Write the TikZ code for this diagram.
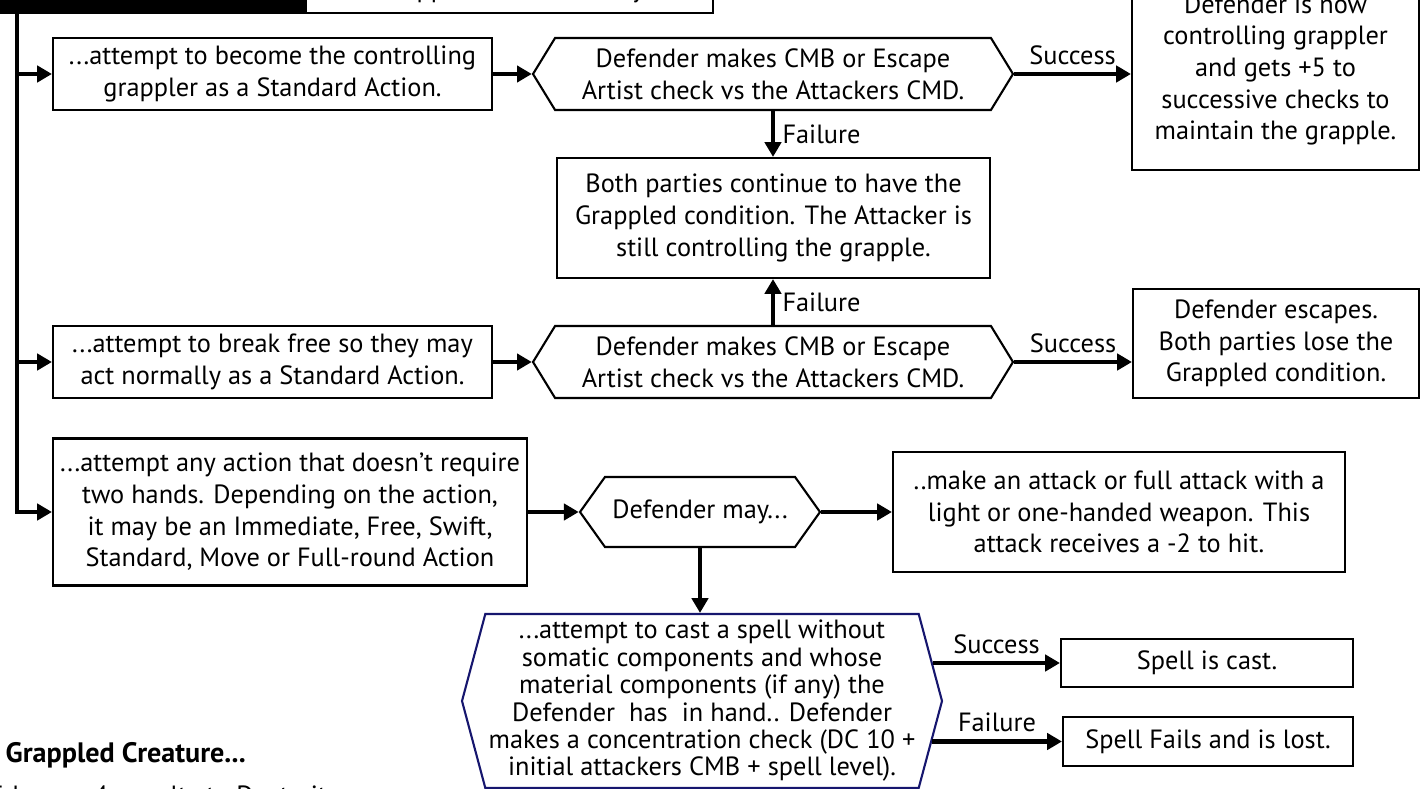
\documentclass[tikz,border=0pt]{standalone}
\usepackage{fontspec}
\setmainfont{PT Sans}
\usetikzlibrary{arrows.meta,shapes.symbols}
\definecolor{navyline}{RGB}{22,22,110}
\tikzstyle{box}=[draw=black,line width=0.6pt,align=center,inner sep=0pt,font=\fontsize{7.5}{9}\selectfont]
\tikzstyle{hexa}=[box,shape=signal,signal to=west and east]
\tikzstyle{arr}=[line width=1.4pt,-{Triangle[length=4.2pt,width=4.6pt]}]
\tikzstyle{lbl}=[font=\fontsize{7.5}{9}\selectfont,inner sep=2pt]

\begin{document}
\begin{tikzpicture}
	\path[use as bounding box,clip] (0,0) rectangle (14.21,-7.89);
	\node (nb) [box,fill=black,minimum width=3.05cm,minimum height=0.44cm,anchor=south] at (1.525,-0.14) {};
	\node (n0) [box,minimum width=4.07cm,minimum height=0.44cm,anchor=south] at (5.095,-0.14) {A Grappled Defender may...};
	\coordinate (t) at (0.17,-0.14);
	\node (n1) [box,minimum width=4.39cm,minimum height=0.72cm] at (2.725,-0.74) {...attempt to become the controlling\\grappler as a Standard Action.};
	\node (n2) [hexa,minimum width=4.8cm,minimum height=0.72cm,signal pointer angle=117] at (7.73,-0.74) {Defender makes CMB or Escape\\Artist check vs the Attackers CMD.};
	\node (n3) [box,minimum width=2.87cm,minimum height=2cm] at (12.755,-0.70) {Defender is now\\controlling grappler\\and gets +5 to\\successive checks to\\maintain the grapple.};
	\node (n4) [box,minimum width=4.33cm,minimum height=1.2cm] at (7.735,-2.18) {Both parties continue to have the\\Grappled condition. The Attacker is\\still controlling the grapple.};
	\node (n5) [box,minimum width=4.39cm,minimum height=0.72cm] at (2.725,-3.62) {...attempt to break free so they may\\act normally as a Standard Action.};
	\node (n6) [hexa,minimum width=4.8cm,minimum height=0.72cm,signal pointer angle=117] at (7.73,-3.62) {Defender makes CMB or Escape\\Artist check vs the Attackers CMD.};
	\node (n7) [box,minimum width=2.86cm,minimum height=1.09cm] at (12.76,-3.435) {Defender escapes.\\Both parties lose the\\Grappled condition.};
	\node (n8) [box,minimum width=4.74cm,minimum height=1.47cm] at (2.90,-5.12) {...attempt any action that doesn’t require\\two hands. Depending on the action,\\it may be an Immediate, Free, Swift,\\Standard, Move or Full-round Action};
	\node (n9) [hexa,minimum width=2.4cm,minimum height=0.7cm,signal pointer angle=109] at (7.0,-5.12) {Defender may...};
	\node (n10) [box,minimum width=4.52cm,minimum height=1.2cm] at (11.19,-5.12) {..make an attack or full attack with a\\light or one-handed weapon. This\\attack receives a -2 to hit.};
	\node (n11) [hexa,draw=navyline,minimum width=4.8cm,minimum height=1.74cm,signal pointer angle=150,font=\fontsize{7.5}{7.8}\selectfont] at (7.02,-7.01) {...attempt to cast a spell without\\somatic components and whose\\material components (if any) the\\Defender~ has~ in hand.. Defender\\makes a concentration check (DC 10 +\\initial attackers CMB + spell level).};
	\node (n12) [box,minimum width=2.92cm,minimum height=0.48cm] at (12.07,-6.63) {Spell is cast.};
	\node (n13) [box,minimum width=2.90cm,minimum height=0.49cm] at (12.08,-7.415) {Spell Fails and is lost.};
	\node (nc1) [lbl,font=\fontsize{8}{9}\selectfont\bfseries,anchor=base west,inner sep=0pt] at (0.05,-7.62) {Grappled Creature...};
	\node (nc2) [lbl,anchor=base west,inner sep=0pt] at (-0.13,-8.04) {Takes a –4 penalty to Dexterity};
	\draw[arr] (t) |- (n8.west);
	\draw[arr] (t |- n1.west) -- (n1.west);
	\draw[arr] (t |- n5.west) -- (n5.west);
	\draw[arr] (n1.east) -- (n2.west);
	\draw[arr] (n2.east) -- (n2.east -| n3.west) node[lbl,above,midway] {Success};
	\draw[arr] (n2.south) -- (n2.south |- n4.north) node[lbl,right,midway] {Failure};
	\draw[arr] (n6.north) -- (n6.north |- n4.south) node[lbl,right,midway] {Failure};
	\draw[arr] (n5.east) -- (n6.west);
	\draw[arr] (n6.east) -- (n6.east -| n7.west) node[lbl,above,midway] {Success};
	\draw[arr] (n8.east) -- (n9.west);
	\draw[arr] (n9.east) -- (n10.west);
	\draw[arr] (n9.south) -- (n9.south |- n11.north);
	\draw[arr] (n12.west -| n11.east) ++(-0.1,0) -- (n12.west) node[lbl,above,midway] {Success};
	\draw[arr] (n13.west -| n11.east) ++(-0.11,0) -- (n13.west) node[lbl,above,midway] {Failure};
\end{tikzpicture}
\end{document}
